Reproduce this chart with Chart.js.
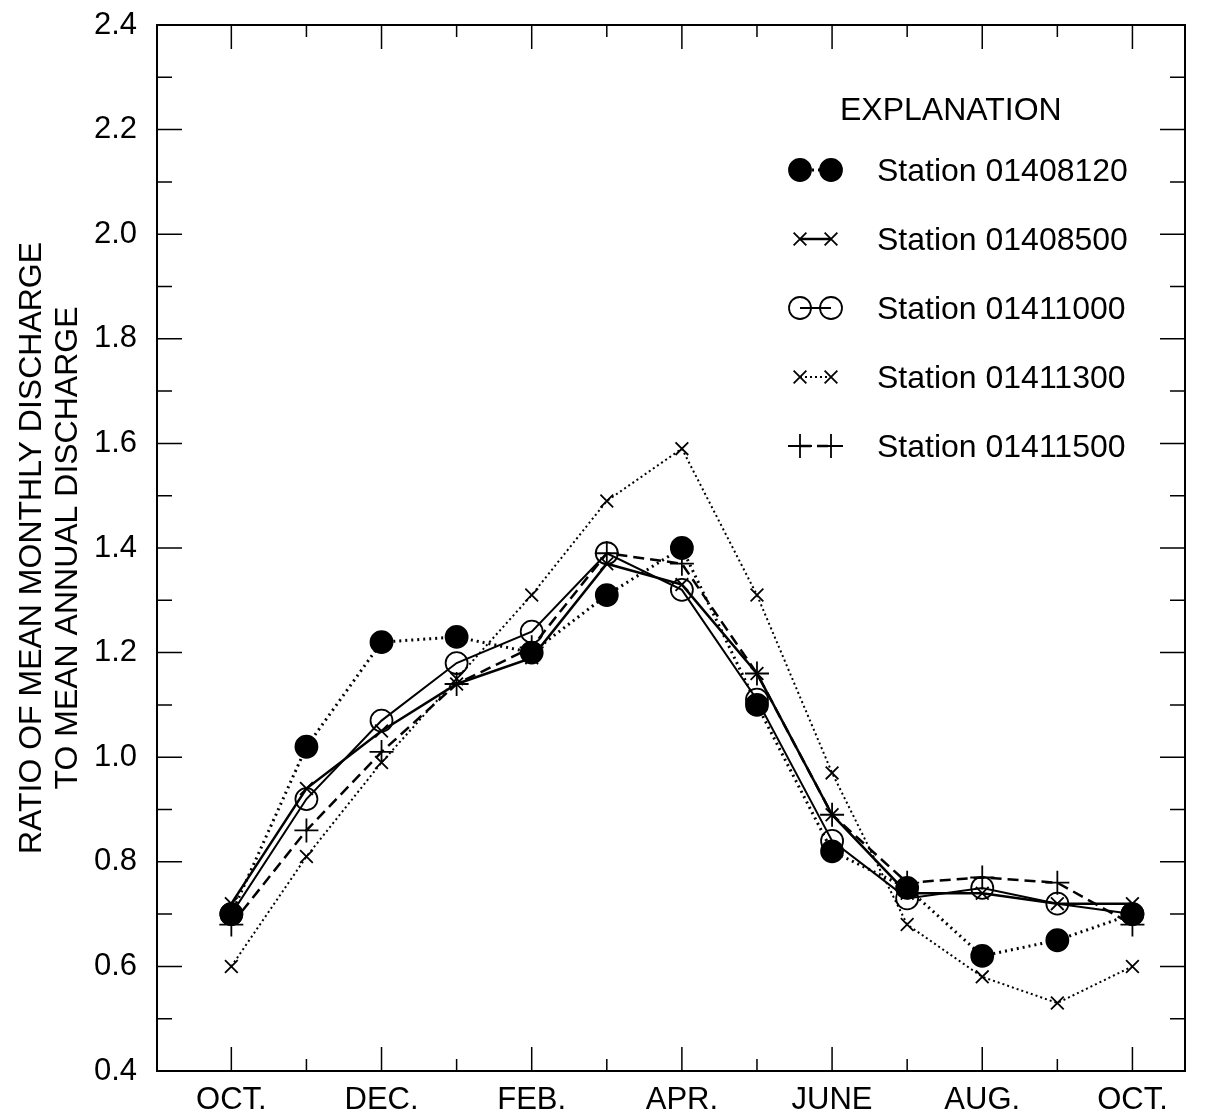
<!DOCTYPE html>
<html>
<head>
<meta charset="utf-8">
<script src="https://cdn.jsdelivr.net/npm/chart.js@4/dist/chart.umd.min.js"></script>
<style>
  html, body { margin: 0; padding: 0; background: #fff; }
  #wrap { width: 1218px; height: 1120px; }
</style>
</head>
<body>
<div id="wrap"><canvas id="c" width="1218" height="1120"></canvas></div>
<script>
// Months, Oct through Oct (index 0..12)
const months = ["OCT.","NOV.","DEC.","JAN.","FEB.","MAR.","APR.","MAY","JUNE","JULY","AUG.","SEP.","OCT."];
const labeledMonths = [0, 2, 4, 6, 8, 10, 12];
const yTicks = [0.4, 0.6, 0.8, 1.0, 1.2, 1.4, 1.6, 1.8, 2.0, 2.2, 2.4];

const stationNames = ["Station 01408120","Station 01408500","Station 01411000","Station 01411300","Station 01411500"];
const s01408120 = [0.70, 1.02, 1.22, 1.23, 1.20, 1.31, 1.40, 1.10, 0.82, 0.75, 0.62, 0.65, 0.70];
const s01408500 = [0.72, 0.94, 1.05, 1.14, 1.19, 1.37, 1.33, 1.16, 0.89, 0.74, 0.74, 0.72, 0.72];
const s01411000 = [0.70, 0.92, 1.07, 1.18, 1.24, 1.39, 1.32, 1.11, 0.84, 0.73, 0.75, 0.72, 0.70];
const s01411300 = [0.60, 0.81, 0.99, 1.15, 1.31, 1.49, 1.59, 1.31, 0.97, 0.68, 0.58, 0.53, 0.60];
const s01411500 = [0.68, 0.86, 1.01, 1.14, 1.21, 1.39, 1.37, 1.16, 0.89, 0.76, 0.77, 0.76, 0.68];

const toXY = arr => arr.map((v, i) => ({ x: i, y: v }));
const FONT = '"Liberation Sans", Arial, Helvetica, sans-serif';

const styles = [
  { data: s01408120, pointStyle: 'circle',   radius: 11, fill: '#000', width: 3,   dash: [2, 4] },
  { data: s01408500, pointStyle: 'crossRot', radius: 9,  fill: 'transparent', width: 2.5, dash: [] },
  { data: s01411000, pointStyle: 'circle',   radius: 11, fill: 'transparent', width: 2,   dash: [] },
  { data: s01411300, pointStyle: 'crossRot', radius: 9,  fill: 'transparent', width: 2,   dash: [2, 3] },
  { data: s01411500, pointStyle: 'cross',    radius: 12, fill: 'transparent', width: 2.5, dash: [11, 6] }
];

const datasets = styles.map((s, i) => ({
  label: stationNames[i],
  data: toXY(s.data),
  borderColor: '#000',
  backgroundColor: s.fill,
  borderWidth: s.width,
  borderDash: s.dash,
  pointStyle: s.pointStyle,
  pointRadius: s.radius,
  pointBorderWidth: 1.8,
  pointBackgroundColor: s.fill,
  pointBorderColor: '#000',
  tension: 0
}));

// frame, inward ticks and the explanation box
const framePlugin = {
  id: 'frame',
  afterDraw(chart) {
    const { ctx, chartArea: a, scales: { x, y } } = chart;
    ctx.save();
    ctx.strokeStyle = '#000';
    ctx.lineWidth = 2;
    ctx.setLineDash([]);
    ctx.strokeRect(a.left, a.top, a.right - a.left, a.bottom - a.top);

    ctx.lineWidth = 1.5;
    ctx.beginPath();
    // y ticks, major + minor, both sides
    for (let v = 0.4; v <= 2.401; v += 0.1) {
      const major = Math.round(v * 10) % 2 === 0;
      const py = y.getPixelForValue(v);
      const len = major ? 25 : 15;
      ctx.moveTo(a.left, py); ctx.lineTo(a.left + len, py);
      ctx.moveTo(a.right, py); ctx.lineTo(a.right - len, py);
    }
    // x ticks, bottom and top
    months.forEach((m, i) => {
      const px = x.getPixelForValue(i);
      const len = labeledMonths.includes(i) ? 24 : 12;
      ctx.moveTo(px, a.bottom); ctx.lineTo(px, a.bottom - len);
      ctx.moveTo(px, a.top); ctx.lineTo(px, a.top + len);
    });
    ctx.stroke();

    // Explanation
    ctx.fillStyle = '#000';
    ctx.font = '32px ' + FONT;
    ctx.textBaseline = 'middle';
    ctx.textAlign = 'left';
    ctx.fillText('EXPLANATION', a.left + 683, a.top + 86);
    datasets.forEach((d, i) => {
      const cy = a.top + 145 + i * 69;
      const x0 = a.left + 643, x1 = a.left + 674;
      ctx.save();
      ctx.lineWidth = d.borderWidth;
      ctx.setLineDash(d.borderDash);
      ctx.beginPath(); ctx.moveTo(x0, cy); ctx.lineTo(x1, cy); ctx.stroke();
      ctx.restore();
      const opts = { pointStyle: d.pointStyle, radius: d.pointRadius, borderWidth: 1.8, rotation: 0 };
      ctx.save();
      ctx.fillStyle = d.pointBackgroundColor; ctx.strokeStyle = '#000'; ctx.lineWidth = 1.8;
      Chart.helpers.drawPoint(ctx, opts, x0, cy);
      Chart.helpers.drawPoint(ctx, opts, x1, cy);
      ctx.restore();
      ctx.fillText(d.label, a.left + 720, cy + 2);
    });
    ctx.restore();
  }
};

new Chart(document.getElementById('c'), {
  type: 'line',
  data: { datasets },
  plugins: [framePlugin],
  options: {
    responsive: false,
    animation: false,
    layout: { padding: { top: 25, right: 33, left: 0, bottom: 0 } },
    plugins: { legend: { display: false }, tooltip: { enabled: false } },
    scales: {
      x: {
        type: 'linear',
        min: -0.99,
        max: 12.7,
        afterBuildTicks: s => { s.ticks = labeledMonths.map(v => ({ value: v })); },
        afterFit: s => { s.height = 49; s.paddingLeft = 0; s.paddingRight = 0; },
        grid: { display: false },
        border: { display: false },
        ticks: {
          autoSkip: false, maxRotation: 0, padding: 3,
          color: '#000',
          font: { family: FONT, size: 31 },
          callback: v => months[v]
        }
      },
      y: {
        min: 0.4,
        max: 2.4,
        afterBuildTicks: s => { s.ticks = yTicks.map(v => ({ value: v })); },
        afterFit: s => { s.width = 157; s.paddingTop = 0; s.paddingBottom = 0; },
        grid: { display: false },
        border: { display: false },
        ticks: {
          padding: 12,
          color: '#000',
          font: { family: FONT, size: 31 },
          callback: v => v.toFixed(1)
        },
        title: {
          display: true,
          text: ['RATIO OF MEAN MONTHLY DISCHARGE', 'TO MEAN ANNUAL DISCHARGE'],
          color: '#000',
          font: { family: FONT, size: 32, lineHeight: 1.12 },
          padding: { top: 14, bottom: 0 }
        }
      }
    }
  }
});
</script>
</body>
</html>
